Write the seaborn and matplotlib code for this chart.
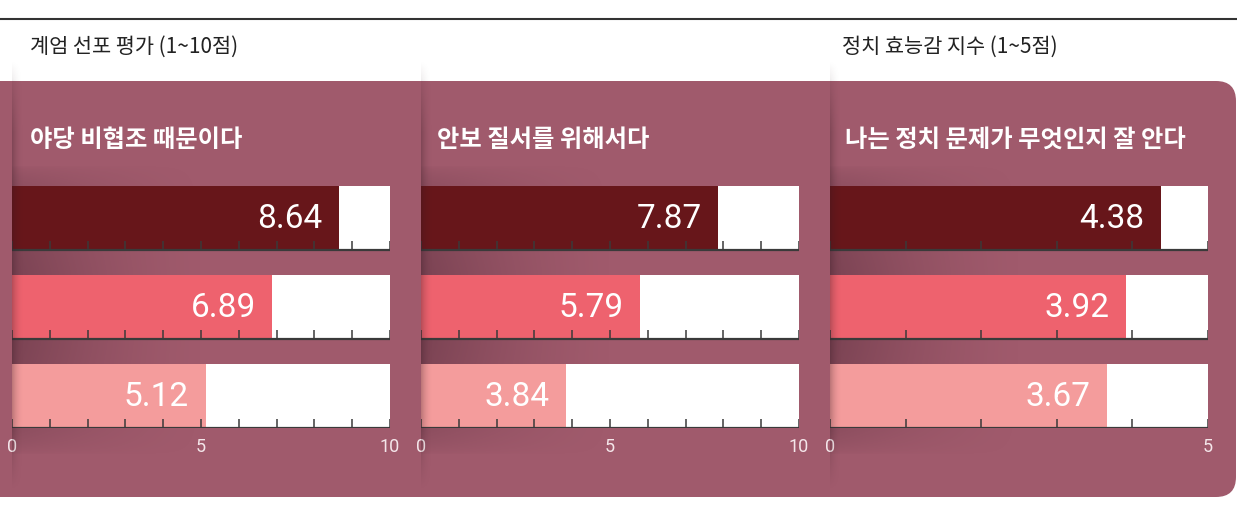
import numpy as np
import pandas as pd
import seaborn as sns
import matplotlib.pyplot as plt
from matplotlib.patches import FancyBboxPatch

# --- data ---
groups = ['group_a', 'group_b', 'group_c']
bar_colors = ['#67161A', '#EE626E', '#F49C9C']

panel_titles = ['계엄 선포 평가 (1~10점)', '정치 효능감 지수 (1~5점)']
subtitles = ['야당 비협조 때문이다', '안보 질서를 위해서다', '나는 정치 문제가 무엇인지 잘 안다']
scale_max = [10, 10, 5]
tick_labels = [['0', '5', '10'], ['0', '5', '10'], ['0', '5']]

opposition = [8.64, 6.89, 5.12]
security = [7.87, 5.79, 3.84]
efficacy = [4.38, 3.92, 3.67]

W, H = 1237, 505
BG = '#A05A6C'
KR = ['Noto Sans CJK KR', 'DejaVu Sans']

sns.set_theme(style='white')
plt.rcParams['font.family'] = KR

fig = plt.figure(figsize=(W / 100, H / 100), dpi=100)
fig.patch.set_facecolor('white')

# background layer in pixel coords
bg = fig.add_axes([0, 0, 1, 1], zorder=0)
bg.set_xlim(0, W)
bg.set_ylim(H, 0)
bg.axis('off')
bg.plot([0, W], [19, 19], color='#333333', lw=1.5, solid_capstyle='butt')
bg.add_patch(FancyBboxPatch((-40, 81), W + 40 - 1, 416,
                            boxstyle='round,pad=0,rounding_size=20',
                            fc=BG, ec='none'))

# soft shadow behind the bars (page fold look)
def soft_shadow(ax, x0):
    w, h = 200, 290
    xs = np.linspace(0, 1, w)
    ys = np.linspace(-1, 1, h)
    a = (1 - xs[None, :]) ** 1.6 * (1 - ys[:, None] ** 2) ** 0.6 * 0.4
    img = np.zeros((h, w, 4))
    img[..., 0] = 0.25
    img[..., 1] = 0.12
    img[..., 2] = 0.17
    img[..., 3] = a
    ax.imshow(img, extent=(x0, x0 + w, 455, 165), aspect='auto', zorder=2)

for x0 in [12, 421, 830]:
    soft_shadow(bg, x0)

# --- panels ---
panels = [(12, opposition), (421, security), (830, efficacy)]
for k, (x0, vals) in enumerate(panels):
    ax = fig.add_axes([x0 / W, 1 - 428 / H, 378 / W, 242 / H], zorder=1)
    ax.patch.set_alpha(0)
    vmax = scale_max[k]
    df = pd.DataFrame({'group': groups, 'value': vals, 'full': [vmax] * 3})
    sns.barplot(data=df, x='full', y='group', color='white', saturation=1,
                width=0.72, linewidth=0, ax=ax)
    sns.barplot(data=df, x='value', y='group', hue='group', palette=bar_colors,
                saturation=1, width=0.72, linewidth=0, legend=False, ax=ax)
    ax.set_xlim(0, vmax)
    ax.set_ylim(2.36, -0.36)
    # scale marks along the bottom of each bar
    for i in range(len(groups)):
        base = i + 0.36
        ax.vlines(np.arange(0, vmax + 1), base - 0.105, base, color='#3a3a3a', lw=1.1)
        ax.hlines(base, 0, vmax, color='#3a3a3a', lw=1.6)
    for i, v in enumerate(vals):
        ax.annotate(f'{v:.2f}', (v, i), xytext=(-12, -1), textcoords='offset points',
                    ha='right', va='center', color='white', fontsize=24,
                    family='Roboto')
    labs = tick_labels[k]
    ax.set_xticks([float(t) for t in labs])
    ax.set_xticklabels(labs, family='Roboto', fontsize=13, color='#F4E6EA')
    ax.tick_params(axis='x', length=0, pad=7)
    ax.set_yticks([])
    ax.set_xlabel('')
    ax.set_ylabel('')
    for s in ax.spines.values():
        s.set_visible(False)

# narrow dark fold band in front
top = fig.add_axes([0, 0, 1, 1], zorder=3)
top.set_xlim(0, W)
top.set_ylim(H, 0)
top.axis('off')
for x0 in [12, 421, 830]:
    w = 12
    xs = np.linspace(0, 1, w * 4)
    ys = np.linspace(0, 1, 200)
    a = (1 - xs[None, :]) ** 2 * np.clip(np.minimum(ys[:, None] * 6, (1 - ys[:, None]) * 6), 0, 1) * 0.3
    img = np.zeros((200, w * 4, 4))
    img[..., 0] = 0.2
    img[..., 1] = 0.1
    img[..., 2] = 0.13
    img[..., 3] = a
    top.imshow(img, extent=(x0, x0 + w, 490, 60), aspect='auto')

# --- text ---
fig.text(30 / W, 1 - 47 / H, panel_titles[0], fontsize=15, color='#222222', va='center',
         fontweight='medium')
fig.text(842 / W, 1 - 47 / H, panel_titles[1], fontsize=15, color='#222222', va='center',
         fontweight='medium')
for x, s in zip([30, 437, 845], subtitles):
    fig.text(x / W, 1 - 140 / H, s, fontsize=17.5, fontweight='bold', color='white', va='center')

fig.savefig('out.png', dpi=100)
